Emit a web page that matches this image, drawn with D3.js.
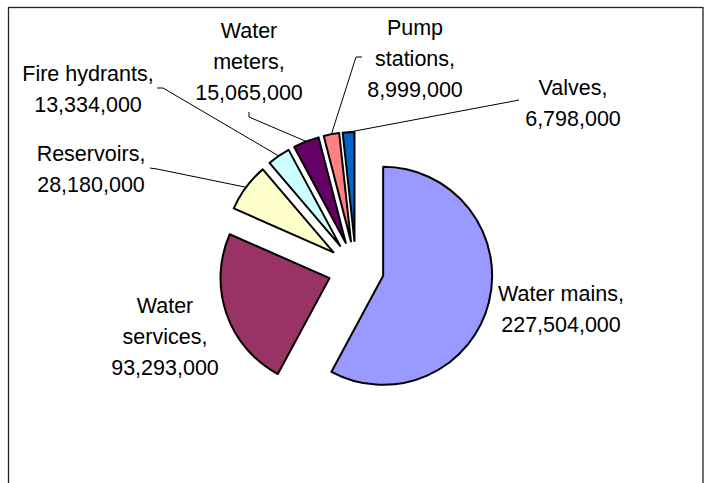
<!DOCTYPE html>
<html>
<head>
<meta charset="utf-8">
<script src="https://cdn.jsdelivr.net/npm/d3@7"></script>
<style>
  html, body { margin: 0; padding: 0; background: #fff; }
  svg { display: block; }
  text { font-family: "Liberation Sans", Arial, sans-serif; }
</style>
</head>
<body>
<svg id="chart" width="716" height="483"></svg>
<script>
// ---- data ----
const categories = ["Water mains", "Water services", "Reservoirs", "Fire hydrants", "Water meters", "Pump stations", "Valves"];
const values = [227504000, 93293000, 28180000, 13334000, 15065000, 8999000, 6798000];
const labelLines = [
  ["Water mains,", "227,504,000"],
  ["Water", "services,", "93,293,000"],
  ["Reservoirs,", "28,180,000"],
  ["Fire hydrants,", "13,334,000"],
  ["Water", "meters,", "15,065,000"],
  ["Pump", "stations,", "8,999,000"],
  ["Valves,", "6,798,000"]
];
const colors = ["#9999FF", "#993366", "#FFFFCC", "#CCFFFF", "#660066", "#FF8080", "#0066CC"];

// ---- layout ----
const cx = 356, cy = 269, radius = 109, explode = 28;
const fontSize = 21.5, lineGap = 31;
// label centre x, first line centre y
const labelPos = [
  [561, 293], [165, 305], [91, 153], [88, 73], [249, 30], [415, 27], [573, 87]
];
// leader line start polylines (label side); the end point is computed from the slice
const leaderStart = [
  null, null,
  [[150, 168], [157, 169]],
  [[157, 88], [163, 88]],
  [[249, 112], [249, 117]],
  [[362, 57], [356, 57]],
  [[519, 100], [514, 101]]
];

const svg = d3.select("#chart");

// frame
svg.append("rect")
  .attr("x", 8.5).attr("y", 7.5)
  .attr("width", 694.5).attr("height", 520)
  .attr("fill", "none").attr("stroke", "#222").attr("stroke-width", 1.3);

const pie = d3.pie().sort(null).value(d => d).startAngle(0).endAngle(2 * Math.PI);
const arcs = pie(values);
const arc = d3.arc().innerRadius(0).outerRadius(radius);

const g = svg.append("g").attr("transform", `translate(${cx},${cy})`);

function offset(a) {
  const mid = (a.startAngle + a.endAngle) / 2;
  return [explode * Math.sin(mid), -explode * Math.cos(mid)];
}

g.selectAll("path.slice")
  .data(arcs)
  .enter().append("path")
  .attr("class", "slice")
  .attr("d", arc)
  .attr("transform", d => { const o = offset(d); return `translate(${o[0]},${o[1]})`; })
  .attr("fill", (d, i) => colors[i])
  .attr("stroke", "#000")
  .attr("stroke-width", 2)
  .attr("stroke-linejoin", "round");

// leader lines
arcs.forEach((a, i) => {
  if (!leaderStart[i]) return;
  const mid = (a.startAngle + a.endAngle) / 2;
  const r = explode + radius;
  const end = [cx + r * Math.sin(mid), cy - r * Math.cos(mid)];
  const pts = leaderStart[i].concat([end]);
  svg.append("path")
    .attr("d", d3.line()(pts))
    .attr("fill", "none")
    .attr("stroke", "#000")
    .attr("stroke-width", 1);
});

// labels
labelLines.forEach((lines, i) => {
  const [lx, ly] = labelPos[i];
  const t = svg.append("text")
    .attr("text-anchor", "middle")
    .attr("font-size", fontSize)
    .attr("fill", "#000");
  lines.forEach((s, j) => {
    t.append("tspan")
      .attr("x", lx)
      .attr("y", ly + j * lineGap + fontSize * 0.35)
      .text(s);
  });
});
</script>
</body>
</html>
